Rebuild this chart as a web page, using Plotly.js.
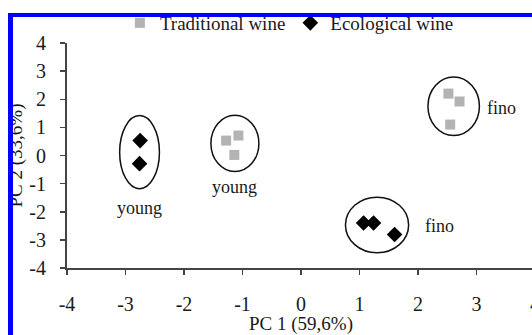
<!DOCTYPE html>
<html>
<head>
<meta charset="utf-8">
<script src="https://cdn.plot.ly/plotly-3.0.1.min.js"></script>
<style>
html,body{margin:0;padding:0;overflow:hidden;background:#fff;width:532px;height:335px;}
#chart{position:absolute;left:0;top:0;width:540px;height:335px;}
#frame{position:absolute;left:8px;top:13px;width:600px;height:400px;border-top:4px solid #0000ff;border-left:5px solid #0000ff;z-index:10;pointer-events:none;}
</style>
</head>
<body>
<div id="chart"></div>
<div id="frame"></div>
<script>
// Data
const tradX = [-1.28, -1.07, -1.14, 2.52, 2.71, 2.55];
const tradY = [0.53, 0.71, 0.02, 2.20, 1.92, 1.10];
const ecoX = [-2.75, -2.76, 1.07, 1.24, 1.60];
const ecoY = [0.53, -0.29, -2.40, -2.40, -2.81];

// Group ellipses (center, radii)
const ellCX = [-2.76, -1.13, 2.61, 1.30];
const ellCY = [0.12, 0.43, 1.75, -2.47];
const ellRX = [0.34, 0.41, 0.44, 0.54];
const ellRY = [1.30, 1.00, 1.04, 0.99];

// Group labels
const labText = ['young', 'young', 'fino', 'fino'];
const labX = [-2.76, -1.13, 3.15, 2.08];
const labY = [-1.85, -1.12, 1.68, -2.52];
const labAnchor = ['center', 'center', 'left', 'left'];

const tickVals = [-4, -3, -2, -1, 0, 1, 2, 3, 4];
const tickText = ['-4', '-3', '-2', '-1', '0', '1', '2', '3', '4'];

const serif = 'Liberation Serif, Times New Roman, serif';

const traces = [
  {x: tradX, y: tradY, type: 'scatter', mode: 'markers', name: 'Traditional wine',
   marker: {symbol: 'square', size: 10, color: '#b3b3b3'}},
  {x: ecoX, y: ecoY, type: 'scatter', mode: 'markers', name: 'Ecological wine',
   marker: {symbol: 'diamond', size: 12, color: '#000000'}}
];

const shapes = ellCX.map((cx, i) => ({
  type: 'circle', xref: 'x', yref: 'y',
  x0: cx - ellRX[i], x1: cx + ellRX[i], y0: ellCY[i] - ellRY[i], y1: ellCY[i] + ellRY[i],
  line: {color: '#111', width: 1.5}, layer: 'below'
}));

const annotations = labText.map((t, i) => ({
  x: labX[i], y: labY[i], xref: 'x', yref: 'y', text: t, showarrow: false,
  xanchor: labAnchor[i], yanchor: 'middle',
  font: {family: serif, size: 18, color: '#1a1a1a'}
}));

const axisCommon = {
  showgrid: false, zeroline: false, showline: true, linecolor: '#444', linewidth: 2,
  ticks: 'outside', ticklen: 5, tickwidth: 1.5, tickcolor: '#444',
  tickfont: {family: serif, size: 20, color: '#1a1a1a'},
  tickmode: 'array', tickvals: tickVals, ticktext: tickText,
  fixedrange: true
};

const layout = {
  width: 540, height: 335,
  margin: {l: 67, r: 5, t: 43, b: 67, autoexpand: false},
  paper_bgcolor: '#fff', plot_bgcolor: '#fff',
  showlegend: true,
  legend: {orientation: 'h', x: 0.113, y: 1.089, xanchor: 'left', yanchor: 'middle',
           font: {family: serif, size: 19, color: '#1a1a1a'}, itemwidth: 30,
           bgcolor: 'rgba(0,0,0,0)', traceorder: 'normal'},
  xaxis: Object.assign({}, axisCommon, {range: [-4, 4], ticklabelstandoff: 12,
    title: {text: 'PC 1 (59,6%)', font: {family: serif, size: 19, color: '#1a1a1a'}, standoff: 14}}),
  yaxis: Object.assign({}, axisCommon, {range: [-4, 4], ticklabelstandoff: 10,
    title: {text: 'PC 2 (33,6%)', font: {family: serif, size: 19, color: '#1a1a1a'}, standoff: 2}}),
  shapes: shapes,
  annotations: annotations
};

Plotly.newPlot('chart', traces, layout, {displayModeBar: false, staticPlot: true});
</script>
</body>
</html>
